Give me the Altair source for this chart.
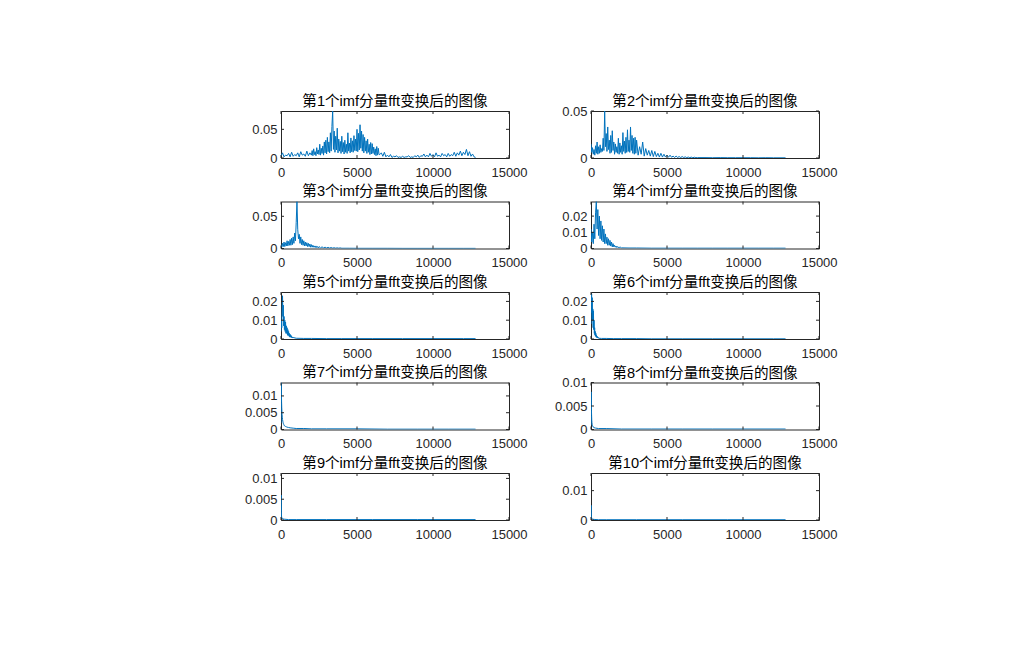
import altair as alt
import pandas as pd

# ---------------- data ----------------
TITLES = [
    "第1个imf分量fft变换后的图像", "第2个imf分量fft变换后的图像",
    "第3个imf分量fft变换后的图像", "第4个imf分量fft变换后的图像",
    "第5个imf分量fft变换后的图像", "第6个imf分量fft变换后的图像",
    "第7个imf分量fft变换后的图像", "第8个imf分量fft变换后的图像",
    "第9个imf分量fft变换后的图像", "第10个imf分量fft变换后的图像",
]
X_MAX = 15000
X_TICKS = [0, 5000, 10000, 15000]
Y_MAX = [0.082, 0.05, 0.073, 0.029, 0.025, 0.025, 0.014, 0.01, 0.0113, 0.016]
Y_TICKS = [
    [0, 0.05], [0, 0.05], [0, 0.05], [0, 0.01, 0.02], [0, 0.01, 0.02],
    [0, 0.01, 0.02], [0, 0.005, 0.01], [0, 0.005, 0.01], [0, 0.005, 0.01], [0, 0.01],
]

FREQ1 = (list(range(0, 2000, 100)) + list(range(2000, 6500, 50))
         + list(range(6500, 12900, 100)))
AMP1 = [
    # 0 - 1900 Hz
    0.003, 0.009, 0.002, 0.005, 0.004, 0.008, 0.002, 0.010, 0.003, 0.006,
    0.004, 0.009, 0.002, 0.011, 0.005, 0.007, 0.003, 0.012, 0.004, 0.009,
    # 2000 - 6450 Hz
    0.005, 0.013, 0.004, 0.016, 0.006, 0.011, 0.004, 0.018, 0.007, 0.014,
    0.006, 0.024, 0.005, 0.017, 0.008, 0.021, 0.005, 0.028, 0.009, 0.031,
    0.007, 0.036, 0.011, 0.028, 0.009, 0.044, 0.012, 0.055, 0.082, 0.015,
    0.047, 0.010, 0.038, 0.014, 0.052, 0.009, 0.033, 0.012, 0.029, 0.008,
    0.038, 0.011, 0.027, 0.007, 0.031, 0.010, 0.024, 0.008, 0.044, 0.012,
    0.026, 0.009, 0.035, 0.011, 0.030, 0.010, 0.039, 0.013, 0.033, 0.012,
    0.050, 0.011, 0.043, 0.014, 0.058, 0.017, 0.047, 0.012, 0.041, 0.009,
    0.036, 0.012, 0.030, 0.008, 0.033, 0.010, 0.024, 0.006, 0.027, 0.007,
    0.025, 0.008, 0.019, 0.006, 0.016, 0.004, 0.020, 0.005, 0.017, 0.006,
    # 6500 - 12800 Hz
    0.006, 0.009, 0.003, 0.010, 0.002,
    0.005, 0.002, 0.006, 0.001, 0.003, 0.002, 0.004, 0.001, 0.002, 0.001,
    0.003, 0.001, 0.002, 0.002, 0.004, 0.001, 0.002, 0.001, 0.004, 0.002,
    0.005, 0.001, 0.004, 0.003, 0.007, 0.002, 0.005, 0.002, 0.008, 0.003,
    0.006, 0.002, 0.009, 0.003, 0.005, 0.002, 0.008, 0.004, 0.006, 0.002,
    0.008, 0.003, 0.006, 0.004, 0.010, 0.003, 0.009, 0.005, 0.012, 0.004,
    0.010, 0.006, 0.015, 0.004, 0.011, 0.003, 0.007, 0.002, 0.001,
]

FREQ2 = (list(range(0, 3000, 50)) + list(range(3000, 7100, 100))
         + [7500, 8000, 8500, 9000, 9500, 10000, 10500, 11000, 11500, 12000, 12500, 12800])
AMP2 = [
    # 0 - 2950 Hz
    0.015, 0.006, 0.011, 0.004, 0.009, 0.003, 0.013, 0.005, 0.017, 0.004,
    0.012, 0.005, 0.014, 0.006, 0.010, 0.007, 0.021, 0.008, 0.050, 0.012,
    0.026, 0.007, 0.033, 0.009, 0.019, 0.005, 0.024, 0.006, 0.029, 0.008,
    0.017, 0.004, 0.015, 0.006, 0.012, 0.005, 0.021, 0.004, 0.016, 0.006,
    0.013, 0.004, 0.027, 0.007, 0.018, 0.005, 0.022, 0.006, 0.030, 0.007,
    0.019, 0.006, 0.033, 0.008, 0.024, 0.005, 0.021, 0.004, 0.022, 0.005,
    # 3000 - 7000 Hz
    0.019, 0.003, 0.012, 0.004, 0.017, 0.002, 0.010, 0.003, 0.008, 0.002,
    0.008, 0.0015, 0.007, 0.0015, 0.005, 0.001, 0.005, 0.001, 0.004, 0.001,
    0.003, 0.0008, 0.003, 0.0008, 0.002, 0.0006, 0.002, 0.0006, 0.0015, 0.0005,
    0.0015, 0.0005, 0.0012, 0.0004, 0.001, 0.0004, 0.0009, 0.0003, 0.0008, 0.0004,
    0.0004,
    # 7500 - 12800 Hz
    0.0004, 0.0003, 0.0004, 0.0003, 0.0003, 0.0003, 0.0003, 0.0002, 0.0003, 0.0002, 0.0002, 0.0002,
]

FREQ3 = list(range(0, 2550, 50)) + list(range(2600, 4100, 100)) + [
    4500, 5000, 6000, 7000, 8000, 9000, 10000, 11000, 12000, 12800]
AMP3 = [
    0.006, 0.002, 0.008, 0.003, 0.010, 0.003, 0.009, 0.004, 0.012, 0.004,
    0.011, 0.005, 0.014, 0.005, 0.016, 0.006, 0.018, 0.008, 0.024, 0.012,
    0.040, 0.073, 0.030, 0.015, 0.022, 0.008, 0.018, 0.006, 0.014, 0.005,
    0.012, 0.004, 0.010, 0.004, 0.009, 0.003, 0.008, 0.003, 0.007, 0.002,
    0.006, 0.002, 0.005, 0.002, 0.004, 0.0015, 0.004, 0.0015, 0.003, 0.001,
    0.003,
    0.001, 0.0025, 0.001, 0.002, 0.0008, 0.0018, 0.0007, 0.0015, 0.0006, 0.0012,
    0.0005, 0.001, 0.0005, 0.0009, 0.0004,
    0.0004, 0.0003, 0.0003, 0.0003, 0.0002, 0.0002, 0.0002, 0.0002, 0.0002, 0.0002,
]

FREQ4 = list(range(0, 2050, 50)) + [2500, 3000, 4000, 5000, 6000, 7000,
                                    8000, 9000, 10000, 11000, 12000, 12800]
AMP4 = [
    0.012, 0.004, 0.010, 0.003, 0.015, 0.006, 0.022, 0.029, 0.012, 0.024,
    0.008, 0.020, 0.006, 0.017, 0.005, 0.014, 0.004, 0.012, 0.003, 0.009,
    0.003, 0.007, 0.002, 0.006, 0.002, 0.005, 0.0015, 0.004, 0.001, 0.003,
    0.001, 0.002, 0.0008, 0.0015, 0.0006, 0.0012, 0.0005, 0.001, 0.0004, 0.0008,
    0.0004,
    0.0003, 0.0003, 0.0002, 0.0002, 0.0002, 0.0002, 0.0002, 0.0002, 0.0002, 0.0002, 0.0002, 0.0002,
]

FREQ5 = list(range(0, 825, 25)) + [1000, 1500, 2000, 3000, 4000, 6000,
                                   8000, 10000, 12000, 12800]
AMP5 = [
    0.004, 0.010, 0.006, 0.016, 0.023, 0.012, 0.018, 0.007, 0.012, 0.005,
    0.010, 0.004, 0.009, 0.003, 0.007, 0.003, 0.006, 0.002, 0.005, 0.002,
    0.004, 0.0015, 0.003, 0.001, 0.0025, 0.001, 0.002, 0.0008, 0.0015, 0.0006,
    0.001, 0.0005, 0.0008,
    0.0004, 0.0003, 0.0003, 0.0002, 0.0002, 0.0002, 0.0002, 0.0002, 0.0002, 0.0002,
]

FREQ6 = list(range(0, 520, 20)) + [700, 1000, 1500, 2000, 3000, 4000, 6000,
                                   8000, 10000, 12000, 12800]
AMP6 = [
    0.008, 0.018, 0.024, 0.014, 0.022, 0.010, 0.016, 0.006, 0.015, 0.005,
    0.010, 0.003, 0.006, 0.002, 0.004, 0.0015, 0.003, 0.001, 0.002, 0.0008,
    0.0015, 0.0006, 0.001, 0.0005, 0.0008, 0.0004,
    0.0003, 0.0003, 0.0002, 0.0002, 0.0002, 0.0001, 0.0001, 0.0001, 0.0001, 0.0001, 0.0001,
]

FREQ7 = [0, 10, 20, 30, 40, 50, 60, 70, 80, 90, 100, 120, 140, 160, 180, 200,
         250, 300, 350, 400, 500, 600, 800, 1000, 1500, 2000, 3000, 5000,
         7000, 9000, 11000, 12800]
AMP7 = [0.002, 0.014, 0.012, 0.010, 0.008, 0.0065, 0.0055, 0.0045, 0.004, 0.0035,
        0.003, 0.0025, 0.002, 0.0017, 0.0015, 0.0013, 0.001, 0.0009, 0.0008, 0.0007,
        0.0006, 0.0005, 0.0004, 0.0003, 0.0003, 0.0002, 0.0002, 0.0002, 0.0001,
        0.0001, 0.0001, 0.0001]

FREQ8 = [0, 10, 20, 30, 40, 50, 60, 80, 100, 150, 200, 300, 500, 1000, 2000,
         4000, 6000, 8000, 10000, 12800]
AMP8 = [0.001, 0.008, 0.006, 0.004, 0.003, 0.002, 0.0015, 0.001, 0.0008, 0.0005,
        0.0004, 0.0003, 0.0002, 0.0002, 0.0001, 0.0001, 0.0001, 0.0001, 0.0001, 0.0001]

FREQ9 = [0, 5, 10, 20, 30, 50, 100, 200, 500, 1000, 3000, 6000, 9000, 12800]
AMP9 = [0.0005, 0.006, 0.004, 0.002, 0.001, 0.0006, 0.0003, 0.0002, 0.0001,
        0.0001, 0.0001, 0.0001, 0.0001, 0.0001]

FREQ10 = [0, 5, 10, 20, 30, 50, 100, 200, 500, 1000, 3000, 6000, 9000, 12800]
AMP10 = [0.0005, 0.005, 0.003, 0.0015, 0.001, 0.0005, 0.0003, 0.0002, 0.0001,
         0.0001, 0.0001, 0.0001, 0.0001, 0.0001]

FREQS = [FREQ1, FREQ2, FREQ3, FREQ4, FREQ5, FREQ6, FREQ7, FREQ8, FREQ9, FREQ10]
AMPS = [AMP1, AMP2, AMP3, AMP4, AMP5, AMP6, AMP7, AMP8, AMP9, AMP10]

# ---------------- styling ----------------
W, H = 228, 47
TICK = 3
AX = "#262626"
LINE = "#0072BD"
FONT = "Liberation Sans, Noto Sans CJK SC"


def panel(i):
    df = pd.DataFrame({"f": FREQS[i], "a": AMPS[i]})
    xs = alt.Scale(domain=[0, X_MAX], nice=False, zero=True)
    ys = alt.Scale(domain=[0, Y_MAX[i]], nice=False, zero=True)
    xax = alt.Axis(values=X_TICKS, format="d", labelFlush=False,
                   labelOverlap=False, labelPadding=8)
    yax = alt.Axis(values=Y_TICKS[i], format="~g", labelOverlap=False,
                   labelPadding=4)
    line = alt.Chart(df).mark_line(color=LINE, strokeWidth=1, clip=True).encode(
        x=alt.X("f:Q", scale=xs, title=None, axis=xax),
        y=alt.Y("a:Q", scale=ys, title=None, axis=yax),
    )
    xt = pd.DataFrame({"t": X_TICKS})
    yt = pd.DataFrame({"t": Y_TICKS[i]})
    xb = alt.Chart(xt).mark_rule(color=AX, strokeWidth=1).encode(
        x=alt.X("t:Q", scale=xs, title=None, axis=xax),
        y=alt.value(H), y2=alt.value(H - TICK))
    xtop = alt.Chart(xt).mark_rule(color=AX, strokeWidth=1).encode(
        x=alt.X("t:Q", scale=xs, title=None, axis=xax),
        y=alt.value(0), y2=alt.value(TICK))
    yl = alt.Chart(yt).mark_rule(color=AX, strokeWidth=1).encode(
        y=alt.Y("t:Q", scale=ys, title=None, axis=yax),
        x=alt.value(0), x2=alt.value(TICK))
    yr = alt.Chart(yt).mark_rule(color=AX, strokeWidth=1).encode(
        y=alt.Y("t:Q", scale=ys, title=None, axis=yax),
        x=alt.value(W), x2=alt.value(W - TICK))
    # a tick label sitting on the top edge pushes the title up; compensate
    top_label = max(Y_TICKS[i]) >= Y_MAX[i] - 1e-12
    title = alt.TitleParams(TITLES[i], dy=6 if top_label else 0)
    return alt.layer(line, xb, xtop, yl, yr).properties(
        width=W, height=H, title=title)


chart = alt.concat(
    *[panel(i) for i in range(10)],
    columns=2,
    spacing={"row": 43.5, "column": 82},
    bounds="flush",
).properties(
    padding={"left": 235, "top": 85, "right": 10, "bottom": 10},
    background="white",
).configure_view(
    stroke=AX, strokeWidth=1,
).configure_axis(
    domain=False, ticks=False, grid=False,
    labelFont=FONT, labelFontSize=13, labelColor=AX,
).configure_title(
    font=FONT, fontSize=14.6, color="#000000", anchor="middle", offset=2,
    fontWeight="normal",
)

chart.save("out.html", embed_options={"renderer": "svg", "actions": False})
